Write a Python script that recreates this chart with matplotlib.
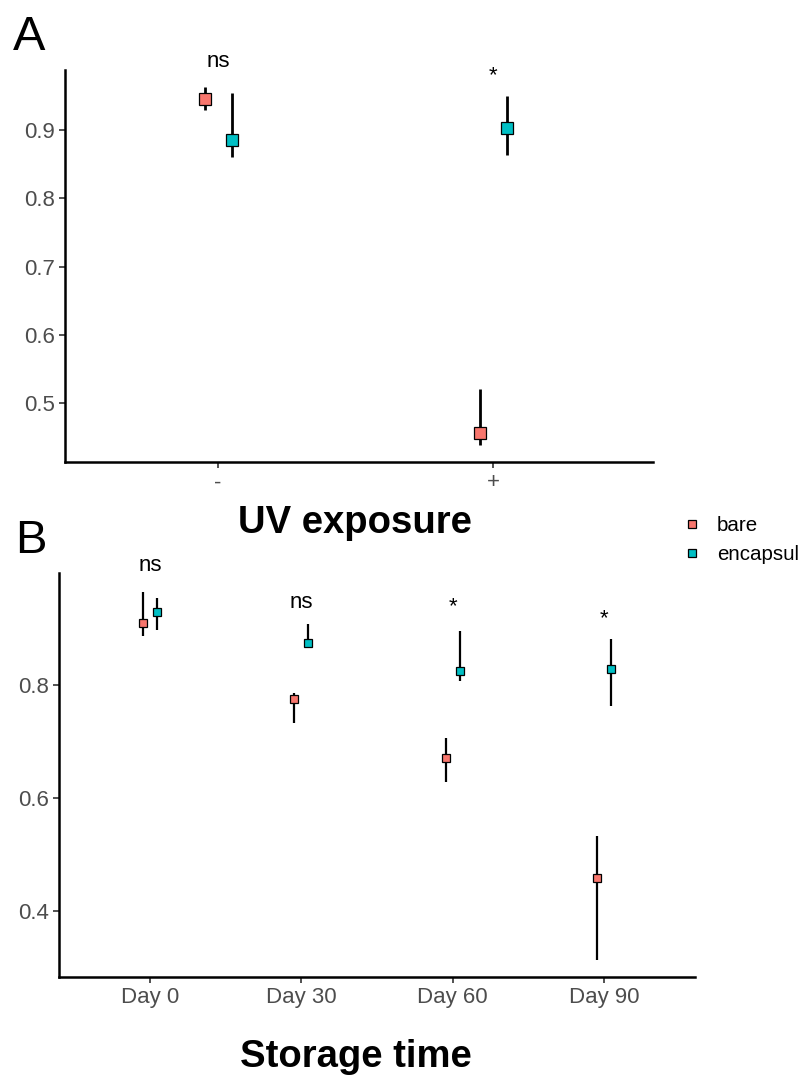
import numpy as np
import matplotlib
matplotlib.use("Agg")
import matplotlib.pyplot as plt
from matplotlib.lines import Line2D

plt.rcParams['font.family'] = ['Liberation Sans', 'DejaVu Sans']

# Panel A: UV exposure
uv_levels = ['-', '+']
uv_bare = [0.945, 0.456]
uv_bare_lo = [0.929, 0.438]
uv_bare_hi = [0.963, 0.520]
uv_enc = [0.885, 0.903]
uv_enc_lo = [0.860, 0.863]
uv_enc_hi = [0.954, 0.950]
uv_sig = ['ns', '*']
uv_sig_y = [1.000, 0.979]

# Panel B: storage time
days = ['Day 0', 'Day 30', 'Day 60', 'Day 90']
st_bare = [0.910, 0.775, 0.671, 0.458]
st_bare_lo = [0.887, 0.733, 0.628, 0.313]
st_bare_hi = [0.965, 0.786, 0.706, 0.533]
st_enc = [0.929, 0.874, 0.825, 0.828]
st_enc_lo = [0.897, 0.865, 0.807, 0.763]
st_enc_hi = [0.954, 0.908, 0.896, 0.881]
st_sig = ['ns', 'ns', '*', '*']
st_sig_y = [1.012, 0.945, 0.938, 0.917]

groups = ['bare', 'encapsul']
colors = {'bare': '#F8766D', 'encapsul': '#00BFC4'}
tick_grey = '#4D4D4D'


def draw_panel(ax, cats, series, sig, sig_y, dodge, msize, lw, sig_fs):
    x = np.arange(1, len(cats) + 1)
    for (name, mid, lo, hi), off in zip(series, [-dodge, dodge]):
        ax.vlines(x + off, lo, hi, color='black', lw=lw, zorder=2)
        ax.plot(x + off, mid, ls='none', marker='s', ms=msize,
                mfc=colors[name], mec='black', mew=0.9, zorder=3)
    for xi, s, yi in zip(x, sig, sig_y):
        ax.text(xi, yi, s, ha='center', va='center', fontsize=sig_fs, clip_on=False)
    ax.set_xticks(x)
    ax.set_xticklabels(cats)
    for side in ['top', 'right']:
        ax.spines[side].set_visible(False)
    for side in ['left', 'bottom']:
        ax.spines[side].set_linewidth(1.8)
    ax.tick_params(length=4.5, width=1.2, color='#333333', labelcolor=tick_grey,
                   labelsize=16, pad=3)


fig = plt.figure(figsize=(8.07, 10.75), dpi=100)

axA = fig.add_axes([65 / 807, 1 - 462 / 1075, 588 / 807, 392 / 1075])
draw_panel(axA, uv_levels,
           [('bare', uv_bare, uv_bare_lo, uv_bare_hi),
            ('encapsul', uv_enc, uv_enc_lo, uv_enc_hi)],
           uv_sig, uv_sig_y, dodge=0.049, msize=8, lw=2.0, sig_fs=16)
axA.set_xlim(0.444, 2.58)
axA.set_ylim(0.4136, 0.988)
axA.set_yticks([0.5, 0.6, 0.7, 0.8, 0.9])
axA.set_xlabel('UV exposure', fontsize=27.5, fontweight='bold')
axA.xaxis.set_label_coords((355 - 65) / 588, -(533 - 462) / 392)

axB = fig.add_axes([59 / 807, 1 - 977 / 1075, 636 / 807, 404 / 1075])
draw_panel(axB, days,
           [('bare', st_bare, st_bare_lo, st_bare_hi),
            ('encapsul', st_enc, st_enc_lo, st_enc_hi)],
           st_sig, st_sig_y, dodge=0.047, msize=5.5, lw=1.6, sig_fs=16)
axB.set_xlim(0.4, 4.6)
axB.set_ylim(0.283, 0.998)
axB.set_yticks([0.4, 0.6, 0.8])
axB.set_xlabel('Storage time', fontsize=27.5, fontweight='bold')
axB.xaxis.set_label_coords((356 - 59) / 636, -(1067 - 977) / 404)
axA.xaxis.label.set_va('baseline')
axB.xaxis.label.set_va('baseline')

fig.text(13 / 807, 1 - 50 / 1075, 'A', fontsize=35, ha='left', va='baseline')
fig.text(15 / 807, 1 - 553 / 1075, 'B', fontsize=34, ha='left', va='baseline')

handles = [Line2D([], [], ls='none', marker='s', ms=5.5, mfc=colors[g],
                  mec='black', mew=0.9) for g in groups]
fig.legend(handles, groups, loc='center left', frameon=False,
           bbox_to_anchor=(682 / 807, 1 - 540 / 1075), fontsize=14.8,
           handlelength=1.0, handletextpad=0.7, labelspacing=0.5,
           borderpad=0, borderaxespad=0)

fig.savefig('out.png', dpi=100)
